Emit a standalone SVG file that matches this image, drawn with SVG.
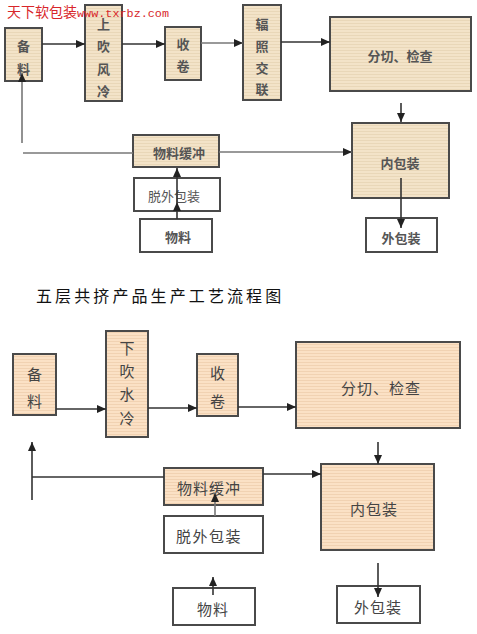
<svg xmlns="http://www.w3.org/2000/svg" width="477" height="634" viewBox="0 0 477 634">
<defs>
<pattern id="stripeA" width="4" height="3" patternUnits="userSpaceOnUse">
<rect width="4" height="3" fill="#f3e3c8"/>
<rect y="2" width="4" height="1" fill="#e9d7b8"/>
</pattern>
<pattern id="stripeB" width="4" height="3" patternUnits="userSpaceOnUse">
<rect width="4" height="3" fill="#fbe1c5"/>
<rect y="2" width="4" height="1" fill="#f1d2b2"/>
</pattern>
<marker id="ah" viewBox="0 0 9 8" refX="9" refY="4" markerWidth="9" markerHeight="8" markerUnits="userSpaceOnUse" orient="auto">
<path d="M0,0 L9,4 L0,8 z" fill="#222"/>
</marker>
</defs>
<style>
.b1{fill:url(#stripeA);stroke:#4a4a4a;stroke-width:2}
.b2{fill:url(#stripeB);stroke:#4a4a4a;stroke-width:2}
.w{fill:#fff;stroke:#4a4a4a;stroke-width:2}
.t{font-family:"Noto Sans CJK SC","Noto Sans",sans-serif;fill:#555;text-anchor:middle;dominant-baseline:central;font-weight:bold}
.s{font-size:13px}
.l{font-size:15px;font-weight:normal;fill:#444}
.c{stroke:#333;stroke-width:1.6;fill:none}
.g{stroke:#777;stroke-width:1.6;fill:none}
.a{marker-end:url(#ah)}
</style>
<g id="top-beiliao"><rect class="b1" x="5" y="28" width="37" height="53"/><text class="t s" x="23.5" y="45">备</text><text class="t s" x="23.5" y="68">料</text></g>
<g id="top-chuifeng"><rect class="b1" x="85" y="5" width="37" height="96"/><text class="t s" x="103.5" y="23">上</text><text class="t s" x="103.5" y="45">吹</text><text class="t s" x="103.5" y="68">风</text><text class="t s" x="103.5" y="90">冷</text></g>
<g id="top-shoujuan"><rect class="b1" x="165" y="27" width="36" height="53"/><text class="t s" x="183" y="43">收</text><text class="t s" x="183" y="65">卷</text></g>
<g id="top-fuzhao"><rect class="b1" x="243" y="5" width="38" height="95"/><text class="t s" x="262" y="23">辐</text><text class="t s" x="262" y="45">照</text><text class="t s" x="262" y="67">交</text><text class="t s" x="262" y="88">联</text></g>
<g id="top-fenqie"><rect class="b1" x="330" y="17" width="141" height="74"/><text class="t s" x="400" y="55">分切、检查</text></g>
<g id="top-neibao"><rect class="b1" x="352" y="123" width="97" height="75"/><text class="t s" x="400" y="162">内包装</text></g>
<g id="top-waibao"><rect class="w" x="366" y="218" width="71" height="34"/><text class="t s" x="401" y="237">外包装</text></g>
<g id="top-huanchong"><rect class="b1" x="133" y="135" width="86" height="32"/><text class="t s" x="179" y="152">物料缓冲</text></g>
<g id="top-tuowai"><rect class="w" x="134" y="178" width="86" height="33"/><text class="t s" x="174" y="195" style="font-weight:normal">脱外包装</text></g>
<g id="top-wuliao"><rect class="w" x="140" y="219" width="72" height="33"/><text class="t s" x="178" y="236">物料</text></g>
<g id="title"><text x="36" y="295" font-family="Noto Sans CJK SC,sans-serif" font-size="16" letter-spacing="3.1" fill="#111" dominant-baseline="central">五层共挤产品生产工艺流程图</text></g>
<g id="bot-beiliao"><rect class="b2" x="13" y="354" width="43" height="61"/><text class="t l" x="34.5" y="373">备</text><text class="t l" x="34.5" y="400">料</text></g>
<g id="bot-chuishui"><rect class="b2" x="106" y="331" width="42" height="106"/><text class="t l" x="127" y="347">下</text><text class="t l" x="127" y="370">吹</text><text class="t l" x="127" y="393">水</text><text class="t l" x="127" y="417">冷</text></g>
<g id="bot-shoujuan"><rect class="b2" x="197" y="354" width="41" height="62"/><text class="t l" x="217.5" y="372">收</text><text class="t l" x="217.5" y="400">卷</text></g>
<g id="bot-fenqie"><rect class="b2" x="296" y="342" width="164" height="86"/><text class="t l" x="381" y="387" letter-spacing="1">分切、检查</text></g>
<g id="bot-neibao"><rect class="b2" x="321" y="464" width="113" height="86"/><text class="t l" x="374" y="508" letter-spacing="1">内包装</text></g>
<g id="bot-waibao"><rect class="w" x="337" y="586" width="83" height="37"/><text class="t l" x="378" y="606" letter-spacing="1">外包装</text></g>
<g id="bot-huanchong"><rect class="b2" x="164" y="468" width="99" height="37"/><text class="t l" x="209" y="487" letter-spacing="1">物料缓冲</text></g>
<g id="bot-tuowai"><rect class="w" x="164" y="516" width="99" height="37"/><text class="t l" x="209" y="535" letter-spacing="1.5">脱外包装</text></g>
<g id="bot-wuliao"><rect class="w" x="173" y="588" width="82" height="37"/><text class="t l" x="213" y="608" letter-spacing="1">物料</text></g>
<g id="connectors">
<line class="c a" x1="42" y1="44" x2="85" y2="44"/>
<line class="c a" x1="122" y1="44" x2="165" y2="44"/>
<line class="g a" x1="201" y1="43" x2="243" y2="43"/>
<line class="c a" x1="281" y1="42" x2="330" y2="42"/>
<line class="c a" x1="401" y1="103" x2="401" y2="122"/>
<line class="c a" x1="401" y1="178" x2="401" y2="228"/>
<line class="g a" x1="219" y1="152" x2="352" y2="152"/>
<line class="g" x1="23" y1="153" x2="133" y2="153"/>
<line class="g a" x1="22" y1="143" x2="22" y2="73"/>
<line class="c a" x1="177" y1="219" x2="177" y2="202"/>
<line class="c a" x1="177" y1="202" x2="177" y2="168"/>
<line class="c a" x1="56" y1="409" x2="106" y2="409"/>
<line class="c a" x1="148" y1="408" x2="197" y2="408"/>
<line class="c a" x1="238" y1="407" x2="296" y2="407"/>
<line class="c a" x1="378" y1="442" x2="378" y2="464"/>
<line class="c a" x1="378" y1="563" x2="378" y2="597"/>
<line class="c a" x1="263" y1="474" x2="321" y2="474"/>
<line class="c" x1="32" y1="477" x2="164" y2="477"/>
<line class="c a" x1="32" y1="500" x2="32" y2="442"/>
<line class="g a" x1="215" y1="516" x2="215" y2="493"/>
<line class="c a" x1="213" y1="595" x2="213" y2="577"/>
</g>
<g id="watermark">
<text x="7" y="17" font-family="Noto Sans CJK SC,sans-serif" font-size="14" fill="#d8262a">天下软包装</text>
<text x="77" y="17" font-family="Liberation Mono,monospace" font-size="11.8" fill="#d8262a">www.txrbz.com</text>
</g>
</svg>
